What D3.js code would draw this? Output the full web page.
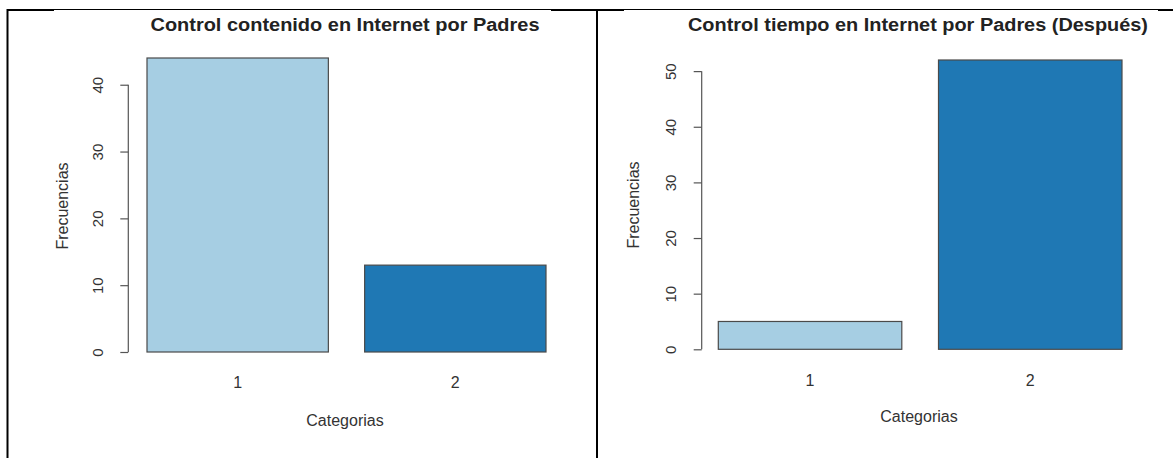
<!DOCTYPE html>
<html>
<head>
<meta charset="utf-8">
<script src="https://cdn.jsdelivr.net/npm/d3@7"></script>
<style>
  html, body { margin: 0; padding: 0; background: #fff; }
  svg { display: block; font-family: "Liberation Sans", Arial, Helvetica, sans-serif; }
</style>
</head>
<body>
<svg id="chart" width="1173" height="458"></svg>
<script>
// ---- data ----
const categories = ["1", "2"];
const colors = ["#a6cee3", "#1f78b4"];
const contenidoValues = [44, 13];
const tiempoValues = [5, 52];
const contenidoTicks = [0, 10, 20, 30, 40];
const tiempoTicks = [0, 10, 20, 30, 40, 50];
const titles = ["Control contenido en Internet por Padres", "Control tiempo en Internet por Padres (Después)"];
const xLabel = "Categorias";
const yLabel = "Frecuencias";

const svg = d3.select("#chart");

// table borders
svg.append("rect").attr("x", 7).attr("y", 9).attr("width", 1166).attr("height", 2).attr("fill", "#000");
svg.append("rect").attr("x", 54).attr("y", 10).attr("width", 497).attr("height", 1.2).attr("fill", "#fff");
svg.append("rect").attr("x", 624).attr("y", 10).attr("width", 534).attr("height", 1.2).attr("fill", "#fff");
svg.append("rect").attr("x", 6.5).attr("y", 9).attr("width", 2).attr("height", 449).attr("fill", "#000");
svg.append("rect").attr("x", 596).attr("y", 9).attr("width", 2).attr("height", 449).attr("fill", "#000");

const panels = [
  { title: titles[0], values: contenidoValues, ticks: contenidoTicks,
    xr: [147, 546], y0: 352, yTop: 58, yMax: 44, axisX: 128.3,
    titleX: 345, titleW: 389, ylabX: 62, ylabY: 206, xtickY: 382, xlabY: 420, xlabX: 345 },
  { title: titles[1], values: tiempoValues, ticks: tiempoTicks,
    xr: [718.3, 1122], y0: 349.3, yTop: 60, yMax: 52, axisX: 701.7,
    titleX: 918, titleW: 460, ylabX: 633, ylabY: 205, xtickY: 380, xlabY: 416, xlabX: 919 }
];

panels.forEach(p => {
  const g = svg.append("g");
  const x = d3.scaleBand().domain(categories).range(p.xr).paddingInner(0.2 / 1.2).paddingOuter(0);
  const y = d3.scaleLinear().domain([0, p.yMax]).range([p.y0, p.yTop]);

  // bars
  g.selectAll("rect.bar").data(p.values).enter().append("rect")
    .attr("class", "bar")
    .attr("x", (d, i) => x(categories[i]))
    .attr("y", d => y(d))
    .attr("width", x.bandwidth())
    .attr("height", d => y(0) - y(d))
    .attr("fill", (d, i) => colors[i])
    .attr("stroke", "#4a4a4a")
    .attr("stroke-width", 1.2);

  // y axis
  const ax = g.append("g").attr("transform", `translate(${p.axisX},0)`)
    .call(d3.axisLeft(y).tickValues(p.ticks).tickSize(8).tickSizeOuter(0).tickPadding(0));
  ax.select(".domain").attr("stroke", "#555").attr("stroke-width", 1.2)
    .attr("d", `M0,${y(p.ticks[0])}V${y(p.ticks[p.ticks.length - 1])}`);
  ax.selectAll(".tick line").attr("stroke", "#555").attr("stroke-width", 1.2);
  ax.selectAll(".tick text")
    .attr("x", 0).attr("dy", null)
    .attr("transform", d => `translate(-31,0) rotate(-90)`)
    .attr("text-anchor", "middle")
    .attr("dominant-baseline", "central")
    .attr("font-size", 15)
    .attr("font-family", "Liberation Sans, Arial, sans-serif")
    .attr("fill", "#333");

  // x category labels
  g.selectAll("text.xt").data(categories).enter().append("text")
    .attr("class", "xt")
    .attr("x", d => x(d) + x.bandwidth() / 2)
    .attr("y", p.xtickY)
    .attr("text-anchor", "middle")
    .attr("dominant-baseline", "central")
    .attr("font-size", 16)
    .attr("fill", "#333")
    .text(d => d);

  // axis titles
  g.append("text")
    .attr("x", p.xlabX).attr("y", p.xlabY)
    .attr("text-anchor", "middle").attr("dominant-baseline", "central")
    .attr("font-size", 16).attr("fill", "#333")
    .text(xLabel);
  g.append("text")
    .attr("transform", `translate(${p.ylabX},${p.ylabY}) rotate(-90)`)
    .attr("text-anchor", "middle").attr("dominant-baseline", "central")
    .attr("font-size", 16).attr("fill", "#333")
    .text(yLabel);

  // main title
  g.append("text")
    .attr("x", p.titleX).attr("y", 30.5)
    .attr("text-anchor", "middle")
    .attr("font-size", 17.5).attr("font-weight", "bold").attr("fill", "#222")
    .attr("textLength", p.titleW).attr("lengthAdjust", "spacingAndGlyphs")
    .text(p.title);
});
</script>
</body>
</html>
